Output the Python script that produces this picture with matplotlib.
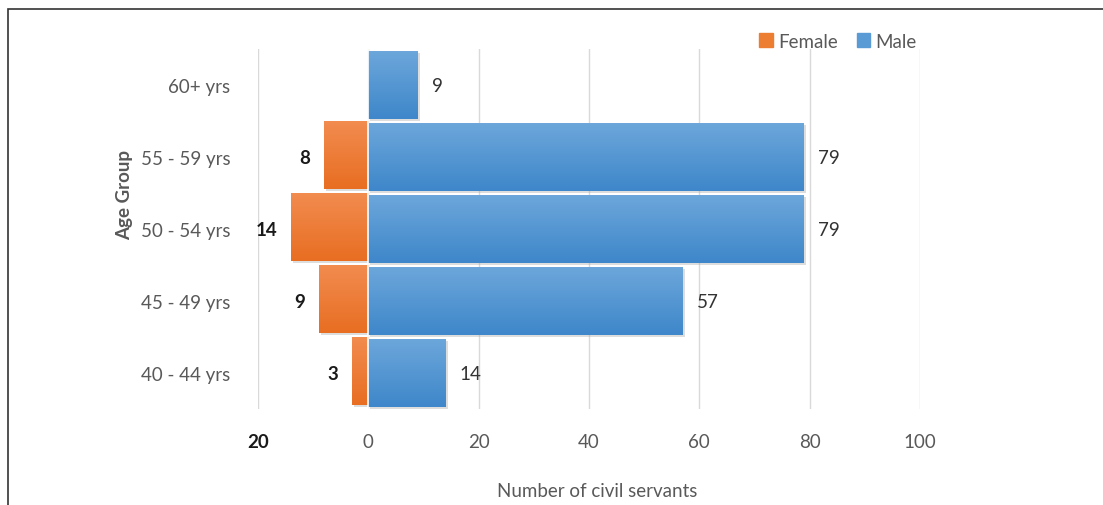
import numpy as np
import matplotlib
matplotlib.use("Agg")
import matplotlib.pyplot as plt
from matplotlib.patches import Rectangle, Patch
import matplotlib.patheffects as pe
from matplotlib.colors import LinearSegmentedColormap

categories = ["40 - 44 yrs", "45 - 49 yrs", "50 - 54 yrs", "55 - 59 yrs", "60+ yrs"]
female = [3, 9, 14, 8, 0]
male = [14, 57, 79, 79, 9]
xticks = [-20, 0, 20, 40, 60, 80, 100]
xticklabels = ["20", "0", "20", "40", "60", "80", "100"]

plt.rcParams['font.family'] = ['Lato', 'DejaVu Sans']
txt = '#595959'
fs = 13.5

fig = plt.figure(figsize=(11.03, 5.06), dpi=100)
ax = fig.add_axes([258/1103, 96/506, 662/1103, 360/506])

y = np.arange(len(categories))
h = 0.95

orange_cmap = LinearSegmentedColormap.from_list('o', ['#F28C50', '#E86E22'])
blue_cmap = LinearSegmentedColormap.from_list('b', ['#6DA7DB', '#3E87CA'])
grad = np.linspace(0, 1, 64).reshape(-1, 1)

shadow = [pe.SimplePatchShadow(offset=(1.5, -1.5), shadow_rgbFace='#aaaaaa', alpha=0.4), pe.Normal()]

def draw(vals, sign, cmap, color, yoff):
    bars = ax.barh(y + yoff, [sign * v for v in vals], height=h, color=color,
                   edgecolor='none', zorder=3)
    for b in bars:
        if b.get_width() == 0:
            continue
        b.set_path_effects(shadow)
        x0, y0 = b.get_x(), b.get_y()
        w, hh = b.get_width(), b.get_height()
        im = ax.imshow(grad, cmap=cmap, aspect='auto', zorder=4,
                       extent=[min(x0, x0 + w), max(x0, x0 + w), y0, y0 + hh],
                       origin='upper')
        im.set_clip_path(b)
    return bars

fb = draw(female, -1, orange_cmap, '#ED7D31', 0.03)
mb = draw(male, 1, blue_cmap, '#5B9BD5', 0.0)

ax.axvline(0, color='white', lw=1.2, zorder=5)

for i, v in enumerate(female):
    if v:
        ax.annotate(str(v), (-v, y[i]), xytext=(-10, 0), textcoords='offset points',
                    ha='right', va='center', fontsize=fs, fontweight='bold',
                    color='#1a1a1a', zorder=6)
for i, v in enumerate(male):
    ax.annotate(str(v), (v, y[i]), xytext=(10, 0), textcoords='offset points',
                ha='left', va='center', fontsize=fs, color='#333333', zorder=6)

ax.set_xlim(-20, 100)
ax.set_ylim(-0.5, len(categories) - 0.5)
ax.set_xticks(xticks)
ax.set_xticklabels(xticklabels)
ax.set_yticks(y)
ax.set_yticklabels(categories)
ax.tick_params(axis='both', length=0, labelsize=fs, labelcolor=txt)
ax.tick_params(axis='x', pad=17)
ax.tick_params(axis='y', pad=20)
lbl0 = ax.get_xticklabels()[0]
lbl0.set_fontweight('bold')
lbl0.set_color('#1a1a1a')
ax.grid(axis='x', color='#d9d9d9', lw=1, zorder=0)
ax.set_axisbelow(True)
for s in ax.spines.values():
    s.set_visible(False)

fig.text(597/1103, 1 - 492/506, "Number of civil servants", ha='center', va='center',
         fontsize=fs, color=txt)
fig.text(125/1103, 1 - 195/506, "Age Group", rotation=90, ha='center', va='center',
         fontsize=fs, fontweight='bold', color=txt)

handles = [Patch(color='#ED7D31', label='Female'), Patch(color='#5B9BD5', label='Male')]
fig.legend(handles=handles, loc='center', bbox_to_anchor=(838/1103, 1 - 42/506), ncol=2,
           frameon=False, fontsize=fs, labelcolor=txt, handlelength=0.7, handleheight=0.7,
           handletextpad=0.3, columnspacing=1.0)

fig.patches.append(Rectangle((8/1103, -0.1), 1.2, 1 - 10/506 + 0.1, transform=fig.transFigure,
                             fill=False, edgecolor='#333333', lw=1.2))

fig.savefig("out.png", dpi=100)
